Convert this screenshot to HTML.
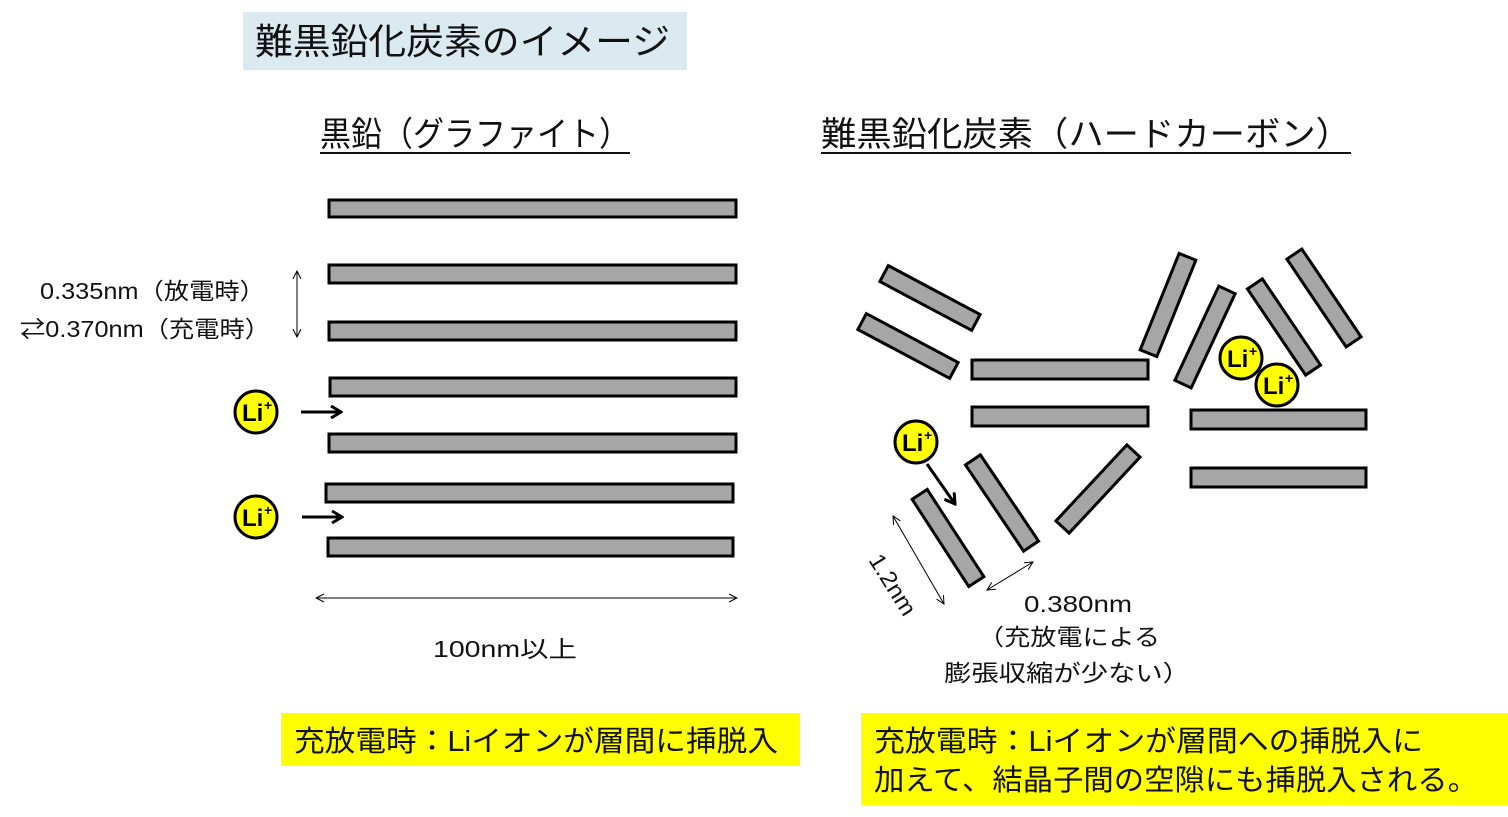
<!DOCTYPE html>
<html><head><meta charset="utf-8"><style>
html,body{margin:0;padding:0;background:#fff;}
svg{display:block;font-family:"Liberation Sans","Noto Sans CJK JP",sans-serif;}
</style></head><body>
<svg width="1508" height="817" viewBox="0 0 1508 817" xmlns="http://www.w3.org/2000/svg">
<defs>
<marker id="ah" markerWidth="10" markerHeight="10" refX="9" refY="5" orient="auto-start-reverse" markerUnits="userSpaceOnUse"><path d="M1,1 L9,5 L1,9" fill="none" stroke="#000" stroke-width="1"/></marker>
<marker id="bh" markerWidth="14" markerHeight="14" refX="12" refY="7" orient="auto" markerUnits="userSpaceOnUse"><path d="M2,1 L12,7 L2,13" fill="none" stroke="#000" stroke-width="3"/></marker>
</defs>
<rect x="243" y="12" width="444" height="58" fill="#dbeaf1"/>
<text x="255" y="54" font-size="36" fill="#111" textLength="415" lengthAdjust="spacingAndGlyphs">難黒鉛化炭素のイメージ</text>
<text x="320" y="146" font-size="34" fill="#111" textLength="310" lengthAdjust="spacingAndGlyphs">黒鉛（グラファイト）</text>
<line x1="320" y1="153" x2="630" y2="153" stroke="#111" stroke-width="2"/>
<text x="821" y="146" font-size="34" fill="#111" textLength="530" lengthAdjust="spacingAndGlyphs">難黒鉛化炭素（ハードカーボン）</text>
<line x1="821" y1="153" x2="1351" y2="153" stroke="#111" stroke-width="2"/>
<g fill="#a6a6a6" stroke="#000" stroke-width="3">
<rect x="329" y="200" width="407" height="17"/>
<rect x="329" y="265" width="407" height="18"/>
<rect x="329" y="322" width="407" height="18"/>
<rect x="330" y="378" width="406" height="18"/>
<rect x="329" y="434" width="407" height="18"/>
<rect x="326" y="484" width="407" height="18"/>
<rect x="328" y="538" width="405" height="18"/>
<rect x="972" y="360" width="176" height="19"/>
<rect x="972" y="407" width="176" height="19"/>
<rect x="1191" y="410" width="175" height="19"/>
<rect x="1191" y="468" width="175" height="19"/>
<rect x="-52" y="-9" width="104" height="18" transform="translate(930,298) rotate(28)"/>
<rect x="-52" y="-9" width="104" height="18" transform="translate(908,346) rotate(28)"/>
<rect x="-52" y="-9" width="104" height="18" transform="translate(1168,305) rotate(-68)"/>
<rect x="-52" y="-9" width="104" height="18" transform="translate(1205,337) rotate(-65)"/>
<rect x="-52" y="-9" width="104" height="18" transform="translate(1284,327) rotate(56)"/>
<rect x="-53" y="-9" width="106" height="18" transform="translate(1324,298) rotate(56)"/>
<rect x="-52" y="-9" width="104" height="18" transform="translate(948,538) rotate(57)"/>
<rect x="-52" y="-9" width="104" height="18" transform="translate(1002,503) rotate(56)"/>
<rect x="-52" y="-9" width="104" height="18" transform="translate(1098,489) rotate(-47)"/>
</g>
<g stroke="#000" stroke-width="1" fill="none">
<line x1="297" y1="271" x2="297" y2="337" marker-start="url(#ah)" marker-end="url(#ah)"/>
<line x1="316" y1="598" x2="737" y2="598" marker-start="url(#ah)" marker-end="url(#ah)"/>
<line x1="893" y1="516" x2="944" y2="604" marker-start="url(#ah)" marker-end="url(#ah)"/>
<line x1="987" y1="590" x2="1033" y2="562" marker-start="url(#ah)" marker-end="url(#ah)"/>
</g>
<g stroke="#000" stroke-width="3" fill="none">
<line x1="301" y1="412" x2="341" y2="412" marker-end="url(#bh)"/>
<line x1="302" y1="517" x2="342" y2="517" marker-end="url(#bh)"/>
<line x1="927" y1="464" x2="955" y2="504" marker-end="url(#bh)"/>
</g>
<g fill="#ffff00" stroke="#000" stroke-width="3">
<circle cx="256" cy="412" r="21"/><circle cx="256" cy="517" r="21"/>
<circle cx="916" cy="442" r="21"/><circle cx="1241" cy="358" r="21"/><circle cx="1277" cy="385" r="21"/>
</g>
<g font-size="24" font-weight="bold" fill="#000">
<text x="242" y="421">Li</text><text x="264" y="410" font-size="14">+</text>
<text x="242" y="526">Li</text><text x="264" y="515" font-size="14">+</text>
<text x="902" y="451">Li</text><text x="924" y="440" font-size="14">+</text>
<text x="1227" y="367">Li</text><text x="1249" y="356" font-size="14">+</text>
<text x="1263" y="394">Li</text><text x="1285" y="383" font-size="14">+</text>
</g>
<g font-size="23" fill="#111" lengthAdjust="spacingAndGlyphs">
<text x="40" y="299" textLength="225" lengthAdjust="spacingAndGlyphs">0.335nm（放電時）</text>
<text x="20" y="337" textLength="250" lengthAdjust="spacingAndGlyphs">⇄0.370nm（充電時）</text>
<text x="433" y="657" textLength="144" lengthAdjust="spacingAndGlyphs">100nm以上</text>
<text x="1024" y="612" textLength="108" lengthAdjust="spacingAndGlyphs">0.380nm</text>
<text x="978" y="645" textLength="182" lengthAdjust="spacingAndGlyphs">（充放電による</text>
<text x="944" y="681" textLength="246" lengthAdjust="spacingAndGlyphs">膨張収縮が少ない）</text>
<text x="0" y="0" transform="translate(868,560) rotate(58)" textLength="68" lengthAdjust="spacingAndGlyphs">1.2nm</text>
</g>
<rect x="281" y="713" width="519" height="53" fill="#ffff00"/>
<text x="294" y="751" font-size="29" fill="#111" textLength="484" lengthAdjust="spacingAndGlyphs">充放電時：Liイオンが層間に挿脱入</text>
<rect x="861" y="713" width="647" height="92" fill="#ffff00"/>
<text x="874" y="751" font-size="29" fill="#111" textLength="549" lengthAdjust="spacingAndGlyphs">充放電時：Liイオンが層間への挿脱入に</text>
<text x="874" y="790" font-size="29" fill="#111" textLength="604" lengthAdjust="spacingAndGlyphs">加えて、結晶子間の空隙にも挿脱入される。</text>
</svg>
</body></html>
